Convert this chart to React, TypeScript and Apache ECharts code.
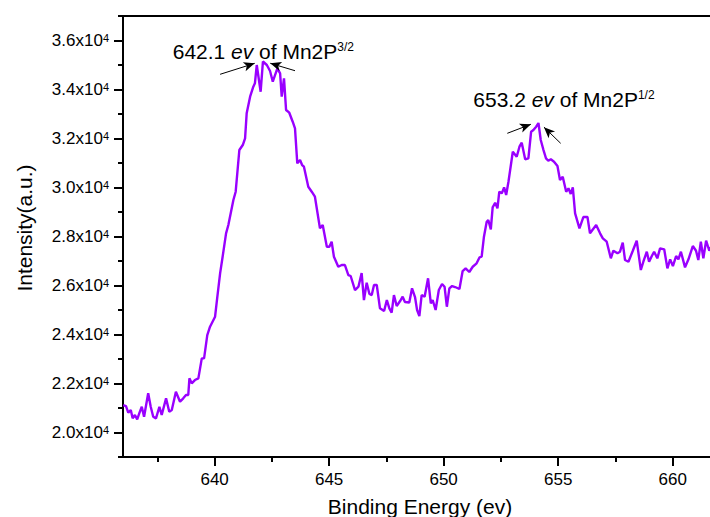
import React, { useEffect, useRef } from 'react';
import * as echarts from 'echarts';

const energy = [
  636.01, 636.13, 636.23, 636.34, 636.42, 636.52, 636.62, 636.71, 636.82, 636.92,
  637.10, 637.21, 637.32, 637.44, 637.59, 637.69, 637.88, 638.02, 638.13, 638.31,
  638.49, 638.63, 638.75, 638.85, 638.90, 639.00, 639.14, 639.29, 639.44, 639.54,
  639.68, 639.80, 640.02, 640.12, 640.24, 640.35, 640.50, 640.60, 640.82, 640.92,
  641.08, 641.23, 641.33, 641.40, 641.55, 641.69, 641.76, 641.84, 642.01, 642.11,
  642.28, 642.42, 642.54, 642.74, 642.86, 642.93, 643.03, 643.12, 643.26, 643.41,
  643.51, 643.61, 643.73, 643.82, 643.90, 644.09, 644.24, 644.38, 644.60, 644.72,
  644.90, 645.01, 645.11, 645.21, 645.40, 645.55, 645.69, 645.84, 645.94, 646.13,
  646.28, 646.42, 646.52, 646.64, 646.76, 646.86, 646.96, 647.08, 647.22, 647.40,
  647.52, 647.63, 647.73, 647.83, 647.95, 648.10, 648.21, 648.31, 648.50, 648.62,
  648.75, 648.84, 648.94, 649.04, 649.17, 649.32, 649.44, 649.52, 649.65, 649.79,
  649.93, 650.04, 650.14, 650.25, 650.37, 650.50, 650.69, 650.83, 650.96, 651.12,
  651.27, 651.44, 651.57, 651.66, 651.76, 651.88, 651.95, 652.06, 652.14, 652.25,
  652.35, 652.43, 652.54, 652.64, 652.73, 652.83, 653.02, 653.19, 653.31, 653.41,
  653.56, 653.70, 653.82, 653.92, 654.04, 654.14, 654.24, 654.35, 654.47, 654.57,
  654.68, 654.82, 654.97, 655.08, 655.20, 655.35, 655.45, 655.55, 655.64, 655.74,
  655.93, 656.10, 656.28, 656.39, 656.66, 656.83, 656.95, 657.12, 657.30, 657.41,
  657.59, 657.70, 657.82, 657.92, 658.07, 658.26, 658.43, 658.61, 658.72, 658.87,
  658.97, 659.09, 659.19, 659.33, 659.45, 659.63, 659.77, 659.89, 660.01, 660.15,
  660.25, 660.36, 660.54, 660.69, 660.88, 661.02, 661.12, 661.23, 661.34, 661.46,
  661.60, 661.72,
];

const intensity = [
  21121, 21080, 20807, 20917, 20578, 20713, 20537, 20782, 21052, 20643,
  21599, 21052, 20643, 20578, 21052, 20713, 21394, 20847, 20917, 21664,
  21256, 21394, 21529, 21529, 22211, 22007, 22141, 22211, 23027, 23027,
  23978, 24317, 24725, 25542, 26497, 27175, 28130, 28468, 29489, 29828,
  31530, 31734, 32008, 33028, 33706, 34114, 34253, 35000, 33910, 35143,
  35000, 34755, 34318, 34865, 34661, 33706, 34457, 33163, 33053, 32685,
  32416, 30987, 31122, 30918, 30848, 30032, 29828, 29624, 28334, 28468,
  27583, 27583, 27787, 27175, 26766, 26836, 26836, 26427, 26387, 25815,
  25950, 26509, 25407, 26113, 25652, 25611, 26019, 26019, 25068, 24958,
  25407, 25068, 24889, 25611, 25162, 25366, 25542, 25325, 25305, 25885,
  25529, 24999, 24754, 25611, 25542, 26293, 25272, 25407, 24999, 25815,
  26060, 25950, 25134, 25885, 25978, 25938, 25856, 26591, 26701, 26550,
  26766, 26905, 27150, 27175, 27991, 28603, 28673, 28293, 29191, 29379,
  29150, 29828, 29762, 30007, 29693, 30236, 31461, 31257, 31665, 31828,
  31150, 31191, 32277, 32346, 32481, 32632, 31938, 31559, 31191, 31093,
  31150, 31052, 30877, 30305, 30440, 29828, 29967, 29734, 30007, 28946,
  28334, 28795, 28795, 28130, 28468, 28130, 27926, 27787, 27109, 27419,
  27313, 27379, 27746, 27040, 26970, 27419, 27828, 26632, 26970, 27379,
  26970, 27203, 27379, 27109, 27517, 27477, 26701, 27068, 26795, 27203,
  27068, 27379, 26742, 27068, 27611, 27419, 27040, 27787, 27109, 27828,
  27419, 27652,
];

const xMajorTicks = [640, 645, 650, 655, 660];
const xMinorTicks = [637.5, 642.5, 647.5, 652.5, 657.5];
const yMajorTicks = [20000, 22000, 24000, 26000, 28000, 30000, 32000, 34000, 36000];
const yMinorTicks = [19000, 21000, 23000, 25000, 27000, 29000, 31000, 33000, 35000, 37000];

const peakEnergyLabels = ['642.1', '653.2'];
const peakOrbitalSup = ['3/2', '1/2'];

// annotation arrows: [start, end] in data coordinates (energy, intensity)
const arrowSegments = [
  [[640.24, 34620], [641.75, 35067]],
  [[643.51, 34767], [642.43, 35070]],
  [[652.78, 32212], [653.81, 32580]],
  [[655.11, 31803], [654.38, 32464]],
];

const FONT = 'Liberation Sans, Arial, Helvetica, sans-serif';
const LINE_COLOR = '#9900ff';

export default function App() {
  const ref = useRef<HTMLDivElement>(null);

  useEffect(() => {
    if (!ref.current) return;
    const chart = echarts.init(ref.current, null, { renderer: 'svg' });

    const data = energy.map((e, i) => [e, intensity[i]]);
    const xMin = 636;
    const xMax = 661.63;
    const yMin = 19000;
    const yMax = 37000;

    const annotationRich = {
      n: { fontFamily: FONT, fontSize: 21, color: '#000' },
      i: { fontFamily: FONT, fontSize: 21, fontStyle: 'italic', color: '#000' },
      s: { fontFamily: FONT, fontSize: 12, color: '#000', verticalAlign: 'top', lineHeight: 13 },
    };

    chart.setOption({
      animation: false,
      backgroundColor: '#fff',
      grid: { left: 123, top: 16, right: 0, bottom: 60, containLabel: false },
      xAxis: [
        {
          type: 'value',
          position: 'bottom',
          min: xMin,
          max: xMax,
          axisLine: { show: true, lineStyle: { color: '#000', width: 2 } },
          axisTick: { show: true, customValues: xMajorTicks, length: 9, lineStyle: { color: '#000', width: 2 } },
          axisLabel: { show: true, customValues: xMajorTicks, fontFamily: FONT, fontSize: 17, color: '#000', margin: 14 },
          splitLine: { show: false },
        },
        {
          type: 'value',
          position: 'bottom',
          min: xMin,
          max: xMax,
          axisLine: { show: false },
          axisTick: { show: true, customValues: xMinorTicks, length: 5, lineStyle: { color: '#000', width: 2 } },
          axisLabel: { show: false },
          splitLine: { show: false },
        },
        {
          type: 'value',
          position: 'top',
          min: xMin,
          max: xMax,
          axisLine: { show: true, lineStyle: { color: '#000', width: 2 } },
          axisTick: { show: false },
          axisLabel: { show: false },
          splitLine: { show: false },
        },
      ],
      yAxis: [
        {
          type: 'value',
          position: 'left',
          min: yMin,
          max: yMax,
          axisLine: { show: true, lineStyle: { color: '#000', width: 2 } },
          axisTick: { show: true, customValues: yMajorTicks, length: 9, lineStyle: { color: '#000', width: 2 } },
          axisLabel: {
            show: true,
            customValues: yMajorTicks,
            margin: 14,
            formatter: (v: number) => `{m|${(v / 10000).toFixed(1)}x10}{s|4}`,
            rich: {
              m: { fontFamily: FONT, fontSize: 17, color: '#000' },
              s: { fontFamily: FONT, fontSize: 11, color: '#000', verticalAlign: 'top', lineHeight: 2 },
            },
          },
          splitLine: { show: false },
        },
        {
          type: 'value',
          position: 'left',
          min: yMin,
          max: yMax,
          axisLine: { show: false },
          axisTick: { show: true, customValues: yMinorTicks, length: 5, lineStyle: { color: '#000', width: 2 } },
          axisLabel: { show: false },
          splitLine: { show: false },
        },
      ],
      series: [
        {
          type: 'line',
          xAxisIndex: 0,
          yAxisIndex: 0,
          data,
          showSymbol: false,
          symbol: 'none',
          lineStyle: { color: LINE_COLOR, width: 2.4 },
          markLine: {
            silent: true,
            symbol: ['none', 'arrow'],
            symbolSize: [7, 11],
            label: { show: false },
            lineStyle: { color: '#000', width: 1, type: 'solid' },
            data: arrowSegments.map((seg) => [
              { coord: seg[0], symbol: 'none' },
              { coord: seg[1], symbol: 'arrow' },
            ]),
          },
        },
      ],
      graphic: [
        {
          type: 'text',
          x: 24,
          y: 228,
          rotation: Math.PI / 2,
          style: {
            text: 'Intensity(a.u.)',
            font: `21px ${FONT}`,
            fill: '#000',
            align: 'center',
            verticalAlign: 'middle',
          },
        },
        {
          type: 'text',
          x: 420,
          y: 506,
          style: {
            text: 'Binding Energy (ev)',
            font: `21px ${FONT}`,
            fill: '#000',
            align: 'center',
            verticalAlign: 'middle',
          },
        },
        {
          type: 'text',
          x: 172.7,
          y: 51,
          style: {
            text: `{n|${peakEnergyLabels[0]} }{i|ev}{n| of Mn2P}{s|${peakOrbitalSup[0]}}`,
            rich: annotationRich,
            align: 'left',
            verticalAlign: 'middle',
          },
        },
        {
          type: 'text',
          x: 473.3,
          y: 99.3,
          style: {
            text: `{n|${peakEnergyLabels[1]} }{i|ev}{n| of Mn2P}{s|${peakOrbitalSup[1]}}`,
            rich: annotationRich,
            align: 'left',
            verticalAlign: 'middle',
          },
        },
      ],
    });

    return () => chart.dispose();
  }, []);

  return (
    <div
      ref={ref}
      style={{ position: 'absolute', left: 0, top: 0, width: 710, height: 517, background: '#fff' }}
    />
  );
}
